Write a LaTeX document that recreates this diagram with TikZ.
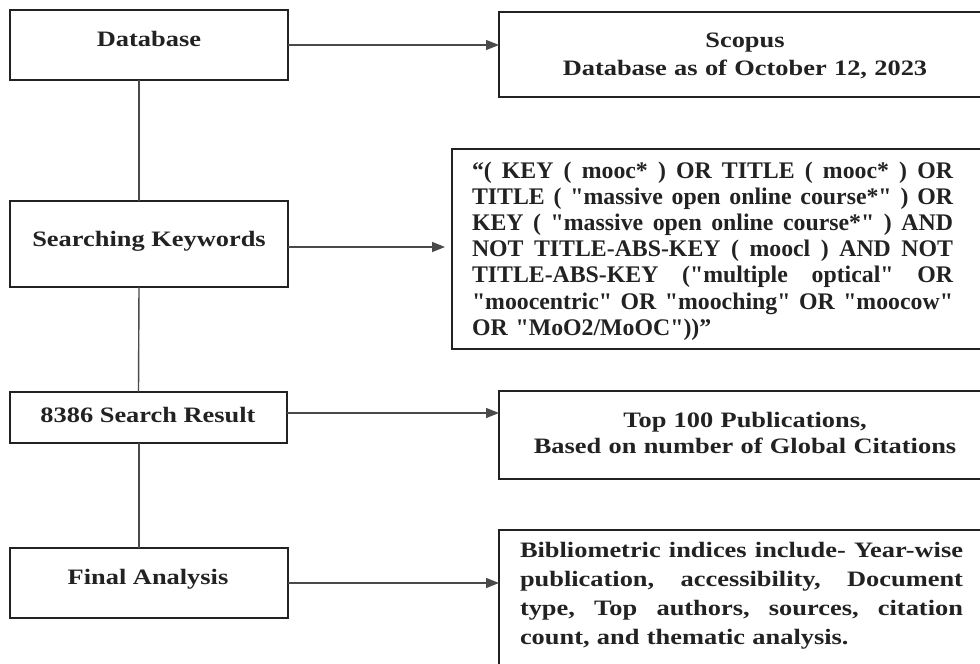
\documentclass[tikz,border=0pt]{standalone}
\usepackage{fontspec}
\setmainfont{Liberation Serif}
\newfontfamily\wfont{Liberation Serif}[FakeStretch=1.2]
\usetikzlibrary{arrows.meta}
\definecolor{ink}{HTML}{222222}
\definecolor{lin}{HTML}{4A4A4A}
% straight double quote, bypassing the TeX ligature mapping
\newcommand\dq{\XeTeXglyph\XeTeXglyphindex "quotedbl"\relax}
% justified line: words separated by spaces are spread over the given width
\def\jlx#1 #2\jlend{#1\if\relax\detokenize{#2}\relax\else\hfill\jlx#2\jlend\fi}
\newcommand\jline[2]{\leavevmode\hbox to #1{\jlx#2 \jlend}}
\tikzset{
  boxnode/.style={draw=ink, line width=2.8pt, inner sep=0pt, outer sep=0pt, anchor=north west, fill=white},
  lbl/.style={inner sep=0pt, outer sep=0pt, text=ink, font=\wfont\bfseries\fontsize{22}{28}\selectfont},
  conn/.style={draw=lin, line width=1.4pt},
  arr/.style={conn, -{Triangle[length=13pt,width=10pt]}},
}
\begin{document}
\begin{tikzpicture}[x=1pt,y=-1pt]
\clip (0,0) rectangle (980,664);
\fill[white] (0,0) rectangle (980,664);
% left boxes
\node[boxnode, minimum width=278pt, minimum height=70pt] (db) at (10,10) {};
\node[boxnode, minimum width=278pt, minimum height=86pt] (sk) at (10,201) {};
\node[boxnode, minimum width=277pt, minimum height=51pt] (sr) at (10,392) {};
\node[boxnode, minimum width=278pt, minimum height=70pt] (fa) at (10,548) {};
% right boxes
\node[boxnode, minimum width=500pt, minimum height=85pt] (sc) at (499,12) {};
\node[boxnode, minimum width=550pt, minimum height=200pt] (kw) at (452,149) {};
\node[boxnode, minimum width=500pt, minimum height=88pt] (tp) at (499,391) {};
\node[boxnode, minimum width=500pt, minimum height=200pt] (bi) at (499,530) {};
% vertical spine
\draw[conn] ([xshift=-10pt]db.south) -- ([xshift=-10pt]sk.north);
\draw[conn] ([xshift=-10pt]sk.south) -- ([xshift=-10pt]sr.north);
\draw[conn] ([xshift=-9.5pt]sr.south) -- ([xshift=-10pt]fa.north);
% horizontal arrows
\draw[arr] (db.east) -- (db.east -| sc.west);
\draw[arr, shorten >=7pt] ([yshift=-3pt]sk.east) -- ([yshift=-3pt]sk.east -| kw.west);
\draw[arr] ([yshift=4.5pt]sr.east) -- ([yshift=4.5pt]sr.east -| tp.west);
\draw[arr] (fa.east) -- (fa.east -| bi.west);
% texts
\node[lbl, anchor=base] (dbt) at (149,46) {Database};
\node[lbl, anchor=base] (skt) at (149,246) {Searching Keywords};
\node[lbl, anchor=base] (srt) at (148,422) {8386 Search Result};
\node[lbl, anchor=base] (fat) at (148,584) {Final Analysis};
\node[lbl, anchor=base, text width=460pt, align=center] (sct) at (745,47) {Scopus\\Database as of October 12, 2023};
\node[lbl, anchor=base, text width=460pt, align=center, font=\wfont\bfseries\fontsize{22}{26}\selectfont] (tpt) at (745,427) {Top 100 Publications,\\Based on number of Global Citations};
\node[inner sep=0pt, outer sep=0pt, text=ink, anchor=base west, text width=481pt, font=\bfseries\fontsize{23.8}{26.2}\selectfont] (kwt) at (472,178) {%
\jline{481pt}{“( KEY ( mooc* ) OR TITLE ( mooc* ) OR}\\
\jline{481pt}{TITLE ( \dq massive open online course*\dq{} ) OR}\\
\jline{481pt}{KEY ( \dq massive open online course*\dq{} ) AND}\\
\jline{481pt}{NOT TITLE-ABS-KEY ( moocl ) AND NOT}\\
\jline{481pt}{TITLE-ABS-KEY (\dq multiple optical\dq{} OR}\\
\jline{481pt}{\dq moocentric\dq{} OR \dq mooching\dq{} OR \dq moocow\dq{}}\\
OR \dq MoO2/MoOC\dq{}))”};
\node[lbl, anchor=base west, text width=443pt, font=\wfont\bfseries\fontsize{22}{29}\selectfont] (bit) at (520,557) {%
\jline{443pt}{Bibliometric indices include- Year-wise}\\
\jline{443pt}{publication, accessibility, Document}\\
\jline{443pt}{type, Top authors, sources, citation}\\
count, and thematic analysis.};
\end{tikzpicture}
\end{document}
